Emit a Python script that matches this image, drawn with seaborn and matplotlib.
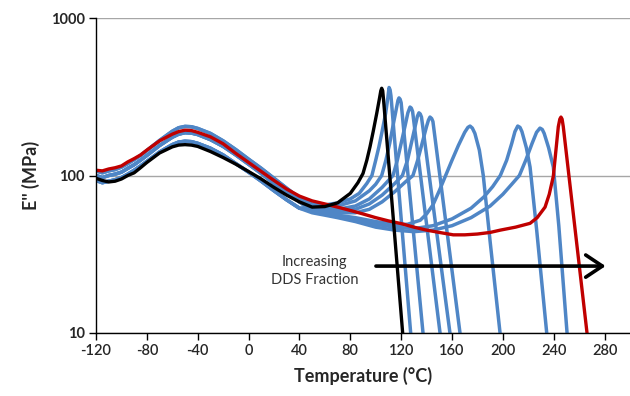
import matplotlib
matplotlib.use("Agg")
import matplotlib.pyplot as plt
import seaborn as sns
import pandas as pd
from matplotlib.ticker import FixedLocator, FixedFormatter, NullLocator

# ---------------- data ----------------
# shared glassy-region temperature grid for the blue (DDS blend) curves
T_glass = [-120, -115, -110, -105, -100, -95, -90, -85, -80, -70, -60, -55, -50,
           -45, -40, -30, -20, -10, 0, 10, 20, 30, 40]
blue_hi = [107, 104, 107, 109, 113, 119, 126, 134, 144, 167, 191, 201, 205,
           204, 199, 185, 166, 146, 127, 111, 96, 83, 72]
blue_mid = [100, 97, 100, 102, 105, 111, 117, 125, 134, 155, 175, 183, 187,
            186, 182, 169, 153, 135, 118, 103, 89, 78, 68]
blue_lo = [93, 90, 92, 94, 97, 102, 108, 115, 123, 141, 157, 163, 165,
           164, 160, 149, 135, 119, 105, 92, 80, 70, 62]

# high-temperature parts of the eight blue curves (T, E'')
b1_T = [50, 60, 70, 80, 87, 93, 97, 100, 102.5, 105, 107.8, 109.5, 110.5, 111.3, 112, 127.5]
b1_E = [66, 65, 67, 71, 77, 89, 100, 125, 152, 190, 248, 310, 362, 350, 320, 10]
b2_T = [50, 60, 70, 84, 95, 100, 104.7, 108, 111, 113.5, 116, 117.5, 118.3, 119.2, 120, 137.2]
b2_E = [64, 63, 64, 69, 80, 88, 100, 125, 160, 205, 260, 300, 311, 305, 290, 10]
b3_T = [50, 60, 70, 84, 95, 105, 113.6, 117, 120, 123, 125.3, 127, 128, 129, 150.6]
b3_E = [63, 61, 61, 64, 71, 84, 100, 125, 160, 205, 250, 272, 268, 255, 10]
b4_T = [50, 60, 70, 84, 95, 105, 115, 121, 125, 128, 131, 132.8, 134, 135, 136, 158.4]
b4_E = [62, 60, 59, 61, 66, 75, 89, 100, 125, 160, 205, 238, 250, 246, 235, 10]
b5_T = [50, 60, 70, 84, 95, 105, 115, 124, 129.3, 133, 136.5, 140, 141.5, 142.7, 144, 145, 166.3]
b5_E = [61, 59, 58, 58, 61, 68, 79, 92, 100, 125, 160, 205, 225, 235, 230, 220, 10]
b6_T = [50, 60, 70, 84, 100, 115, 125, 135, 140, 145, 150, 155, 160, 165, 170, 172.5,
        174.2, 176, 178, 181.5, 184.6, 190, 197.8]
b6_E = [60, 58, 56, 54, 51, 49, 49, 52, 57, 65, 80, 100, 125, 155, 188, 202,
        206, 200, 185, 145, 100, 38, 10]
b7_T = [50, 60, 70, 84, 100, 115, 130, 145, 160, 175, 185, 192, 198, 203, 207, 209.5,
        211.7, 213.5, 215, 218.5, 221.4, 226.6, 234.5]
b7_E = [59, 57, 55, 52, 49, 47, 46, 48, 53, 62, 73, 85, 100, 125, 160, 190,
        206, 202, 190, 150, 113, 45, 10]
b8_T = [50, 60, 70, 84, 100, 115, 130, 145, 160, 175, 190, 200, 207, 213, 218, 223,
        226.5, 229.2, 231, 232.5, 236, 239.7, 244, 250.5]
b8_E = [58, 56, 54, 51, 47, 45, 44, 45, 48, 54, 64, 76, 88, 100, 125, 160,
        188, 200, 196, 185, 150, 113, 48, 10]

black_T = [-120, -115, -110, -105, -100, -95, -90, -85, -80, -70, -60, -55, -50, -45,
           -40, -30, -20, -10, 0, 10, 20, 30, 40, 50, 60, 70, 80, 86, 90, 93, 95.5,
           98, 100.8, 103, 104, 104.7, 105.5, 106.2, 121.2]
black_E = [96, 93, 91, 92, 95, 100, 104, 112, 121, 139, 152, 156, 157, 156,
           153, 142, 130, 118, 106, 95, 84, 75, 68, 63, 63.5, 67, 77, 90, 103, 125, 152,
           190, 248, 310, 345, 358, 345, 300, 10]

red_T = [-120, -115, -110, -105, -100, -95, -90, -85, -80, -70, -60, -55, -50, -45,
         -40, -30, -20, -10, 0, 10, 20, 30, 40, 50, 60, 70, 80, 90, 100, 110, 120,
         130, 140, 150, 161, 170, 180, 190, 198, 210, 221.4, 227, 233.2, 236.5,
         239.7, 243.6, 244.8, 245.7, 246.6, 247.5, 266.2]
red_E = [108, 107, 110, 112, 115, 122, 128, 135, 145, 166, 183, 190, 194, 193,
         188, 176, 159, 138, 121, 106, 93, 82, 74, 69, 66, 63, 60, 57, 54, 51.5, 49.5,
         47, 45, 43.5, 42, 42, 42.5, 43.5, 45, 47, 49.7, 54, 63, 76,
         99, 204, 228, 235, 228, 205, 10]

x_ticks = [-120, -80, -40, 0, 40, 80, 120, 160, 200, 240, 280]
y_ticks = [10, 100, 1000]
y_tick_labels = ["10", "100", "1000"]
annot_text = "Increasing\nDDS Fraction"

# ---------------- assemble blue curves ----------------
blue_parts = [(blue_hi, b1_T, b1_E), (blue_mid, b2_T, b2_E), (blue_lo, b3_T, b3_E),
              (blue_hi, b4_T, b4_E), (blue_mid, b5_T, b5_E), (blue_lo, b6_T, b6_E),
              (blue_mid, b7_T, b7_E), (blue_lo, b8_T, b8_E)]

BLUE = "#4f86c6"
RED = "#c00000"

sns.set_style("white")
plt.rcParams["font.family"] = ["Lato", "DejaVu Sans"]
plt.rcParams["axes.unicode_minus"] = False

fig = plt.figure(figsize=(6.3, 3.96), dpi=100)
ax = fig.add_axes([96 / 630, 63 / 396, 534 / 630, 315 / 396])
ax.set_yscale("log")

for i, (glass, tT, tE) in enumerate(blue_parts):
    df = pd.DataFrame({"T": list(T_glass) + list(tT), "E": list(glass) + list(tE)})
    sns.lineplot(data=df, x="T", y="E", ax=ax, color=BLUE, lw=2.5,
                 sort=False, estimator=None)

sns.lineplot(x=red_T, y=red_E, ax=ax, color=RED, lw=2.4, sort=False, estimator=None)
sns.lineplot(x=black_T, y=black_E, ax=ax, color="black", lw=2.4, sort=False, estimator=None)

ax.set_xlim(-120, 300)
ax.set_ylim(10, 1000)
ax.xaxis.set_major_locator(FixedLocator(x_ticks))
ax.yaxis.set_major_locator(FixedLocator(y_ticks))
ax.yaxis.set_major_formatter(FixedFormatter(y_tick_labels))
ax.yaxis.set_minor_locator(NullLocator())
ax.xaxis.set_minor_locator(NullLocator())

ax.yaxis.grid(True, color="#a6a6a6", lw=1)
ax.xaxis.grid(False)
ax.set_axisbelow(True)
for s in ["top", "right"]:
    ax.spines[s].set_visible(False)
for s in ["left", "bottom"]:
    ax.spines[s].set_color("black")
    ax.spines[s].set_linewidth(1.0)

ax.tick_params(axis="x", direction="out", length=5, width=1, color="black",
               labelsize=10.5, pad=3, bottom=True)
ax.tick_params(axis="y", direction="out", length=5, width=1, color="black",
               labelsize=10.5, pad=3, left=True)
for lab in ax.get_yticklabels():
    lab.set_fontweight("bold")
for lab in ax.get_xticklabels():
    lab.set_fontweight("semibold")

ax.set_xlabel("Temperature (°C)", fontsize=13, fontweight="bold", labelpad=6)
ax.set_ylabel("E'' (MPa)", fontsize=13, fontweight="bold", labelpad=8)

ax.text(52, 24.9, annot_text, ha="center", va="center", fontsize=10.5,
        color="#333333", linespacing=1.35)
ax.annotate("", xy=(283, 26.6), xytext=(98, 26.6),
            arrowprops=dict(arrowstyle="->,head_length=0.6,head_width=0.4",
                            lw=2.6, color="black", mutation_scale=20))

fig.savefig("out.png", dpi=100, facecolor="white")
